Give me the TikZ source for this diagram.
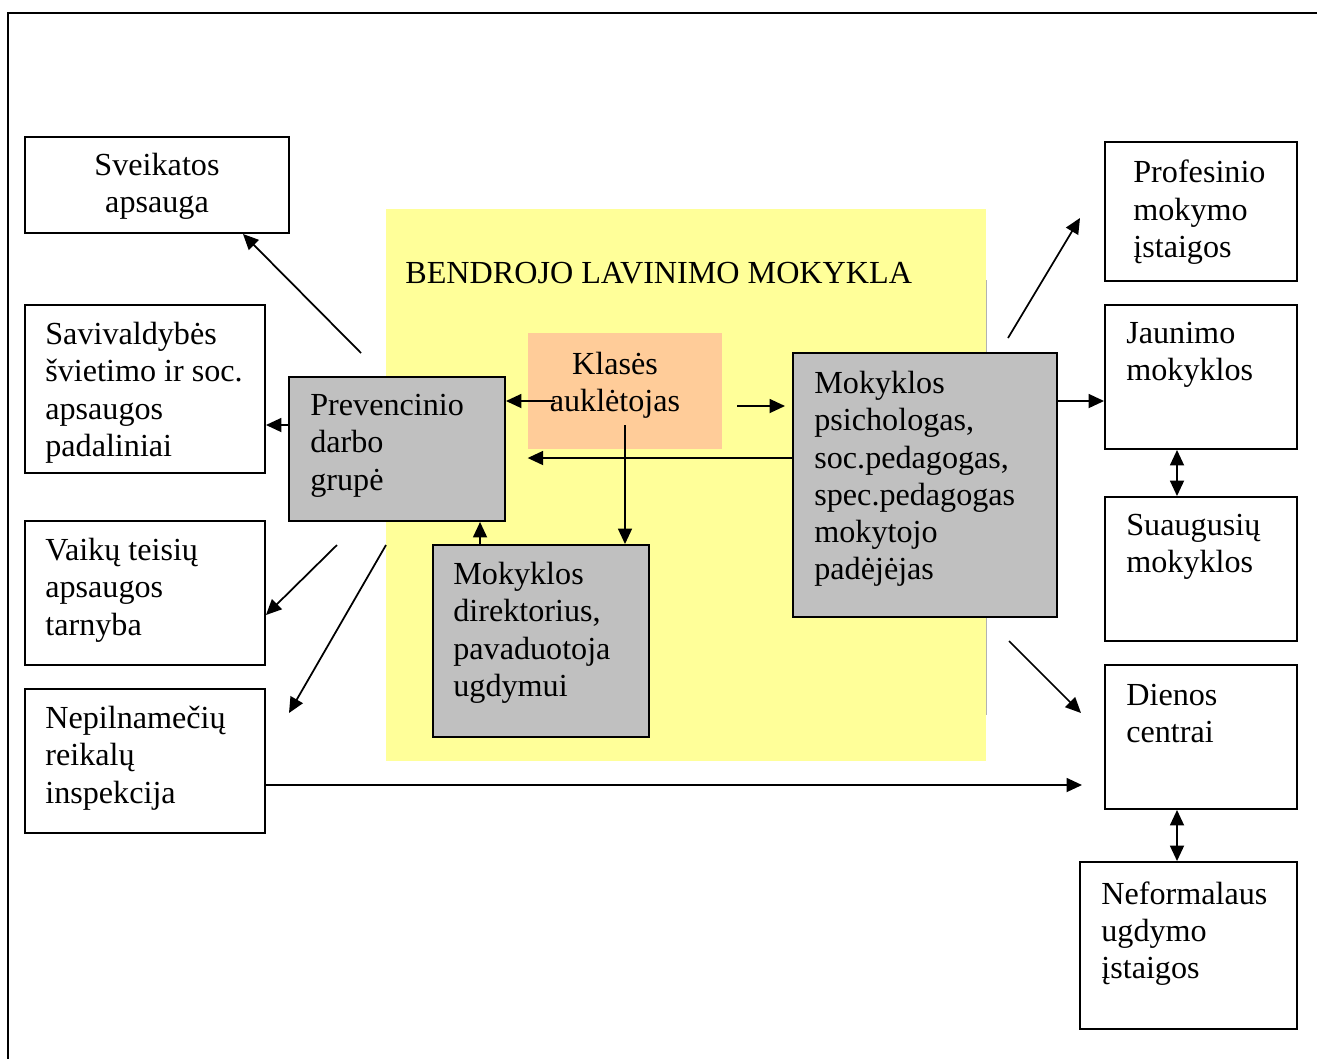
\documentclass[tikz,border=0pt]{standalone}
\usepackage{fontspec}
\setmainfont{Liberation Serif}
\usetikzlibrary{arrows.meta,fit}
\definecolor{geltona}{HTML}{FFFF99}
\definecolor{oranzine}{HTML}{FFCC99}
\definecolor{pilka}{HTML}{C0C0C0}
\begin{document}
\begin{tikzpicture}[x=0.02cm,y=-0.02cm,
	box/.style={draw,line width=1.1pt,inner sep=0pt},
	txt/.style={inner sep=0pt,align=left,anchor=north west,font=\fontsize{18.3}{21.2}\selectfont},
	arr/.style={line width=1pt,-{Triangle[length=0.31cm,width=0.28cm]}},
	arr2/.style={line width=1pt,{Triangle[length=0.31cm,width=0.28cm]}-{Triangle[length=0.31cm,width=0.28cm]}}]
		\useasboundingbox (0,0) rectangle (1317,1059);
		\draw[line width=1.7pt] (1317,13)--(8,13)--(8,1059);
		% mokykla
		\node[fill=geltona,inner sep=0pt,fit={(386,209) (986,761)}] (blm) {};
		\draw[gray!60,line width=0.5pt] (986,280)--(986,715);
		\node[txt] (blm-t) at (405,262) {BENDROJO LAVINIMO MOKYKLA};
		\node[fill=oranzine,inner sep=0pt,fit={(528,333) (722,449)}] (ka) {};
		\node[txt,anchor=north,align=center] (ka-t) at (615,352) {Klasės\\auklėtojas};
		\node[box,fill=pilka,fit={(289,377) (505,521)}] (pg) {};
		\node[txt] (pg-t) at (310,394) {Prevencinio\\darbo\\grupė};
		\node[box,fill=pilka,fit={(433,545) (649,737)}] (md) {};
		\node[txt] (md-t) at (453,562) {Mokyklos\\direktorius,\\pavaduotoja\\ugdymui};
		\node[box,fill=pilka,fit={(793,353) (1057,617)}] (mp) {};
		\node[txt] (mp-t) at (814,371) {Mokyklos\\psichologas,\\soc.pedagogas,\\spec.pedagogas\\mokytojo\\padėjėjas};
		% kairė
		\node[box,fit={(25,137) (289,233)}] (sv) {};
		\node[txt,anchor=north,align=center] (sv-t) at (157,153) {Sveikatos\\apsauga};
		\node[box,fit={(25,305) (265,473)}] (sav) {};
		\node[txt] (sav-t) at (45,322) {Savivaldybės\\švietimo ir soc.\\apsaugos\\padaliniai};
		\node[box,fit={(25,521) (265,665)}] (vt) {};
		\node[txt] (vt-t) at (45,538) {Vaikų teisių\\apsaugos\\tarnyba};
		\node[box,fit={(25,689) (265,833)}] (np) {};
		\node[txt] (np-t) at (45,706) {Nepilnamečių\\reikalų\\inspekcija};
		% dešinė
		\node[box,fit={(1105,142) (1297,281)}] (pr) {};
		\node[txt] (pr-t) at (1133,160) {Profesinio\\mokymo\\įstaigos};
		\node[box,fit={(1105,305) (1297,449)}] (jm) {};
		\node[txt] (jm-t) at (1126,322) {Jaunimo\\mokyklos};
		\node[box,fit={(1105,497) (1297,641)}] (sm) {};
		\node[txt] (sm-t) at (1126,514) {Suaugusių\\mokyklos};
		\node[box,fit={(1105,665) (1297,809)}] (dc) {};
		\node[txt] (dc-t) at (1126,684) {Dienos\\centrai};
		\node[box,fit={(1080,862) (1297,1029)}] (nf) {};
		\node[txt] (nf-t) at (1101,881) {Neformalaus\\ugdymo\\įstaigos};
		% laisvi galai
		\coordinate (c1) at (361,353);
		\coordinate (c3) at (337,545);
		\coordinate (c4) at (386,545);
		\coordinate (c4e) at (289,713);
		\coordinate (c5e) at (1082,785);
		\coordinate (c6) at (555,401);
		\coordinate (c7) at (737,406);
		\coordinate (c7e) at (785,406);
		\coordinate (c8) at (625,425);
		\coordinate (c11) at (1008,338);
		\coordinate (c11e) at (1080,218);
		\coordinate (c14) at (1009,641);
		\coordinate (c14e) at (1081,713);
		% rodyklės
		\draw[arr] (c1)--([shift={(-47,0)}]sv.south east);
		\draw[arr] ([shift={(0,-24)}]pg.west) coordinate (t2)--(t2 -| sav.east);
		\draw[arr] (c3)--([shift={(0,22)}]vt.east);
		\draw[arr] (c4)--(c4e);
		\draw[arr] ([shift={(0,24)}]np.east)--(c5e);
		\draw[arr] (c6)--(c6 -| pg.east);
		\draw[arr] (c7)--(c7e);
		\draw[arr] (c8)--(c8 |- md.north);
		\draw[arr] ([shift={(0,-27)}]mp.west) coordinate (t9)--(t9 -| ka.west);
		\draw[arr] ([shift={(48,0)}]md.north west) coordinate (t10)--(t10 |- pg.south);
		\draw[arr] (c11)--(c11e);
		\draw[arr] ([shift={(0,-84)}]mp.east) coordinate (t12)--(t12 -| jm.west);
		\draw[arr2] ([shift={(-24,0)}]jm.south)--([shift={(-24,0)}]sm.north);
		\draw[arr] (c14)--(c14e);
		\draw[arr2] ([shift={(-24,0)}]dc.south) coordinate (t15)--(t15 |- nf.north);
\end{tikzpicture}
\end{document}
